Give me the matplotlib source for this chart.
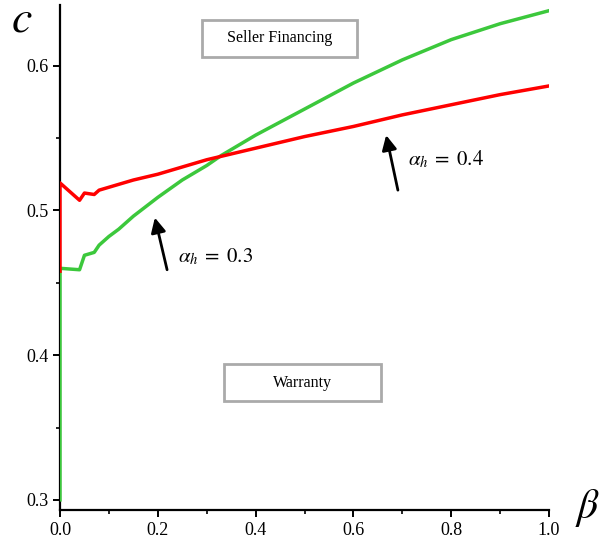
import numpy as np
import matplotlib
matplotlib.use('Agg')
import matplotlib.pyplot as plt
from matplotlib.ticker import MultipleLocator
from matplotlib.patches import Rectangle

plt.rcParams['font.family'] = ['Liberation Serif', 'DejaVu Serif']
plt.rcParams['mathtext.fontset'] = 'stix'

# alpha_h = 0.4 (red)
beta_red = [0.0, 0.0, 0.04, 0.05, 0.07, 0.08, 0.10, 0.12, 0.15, 0.20, 0.25, 0.30,
            0.35, 0.40, 0.50, 0.60, 0.70, 0.80, 0.90, 1.00]
c_red = [0.458, 0.519, 0.507, 0.512, 0.511, 0.514, 0.516, 0.518, 0.521, 0.525, 0.530, 0.535,
         0.539, 0.543, 0.551, 0.558, 0.566, 0.573, 0.580, 0.586]

# alpha_h = 0.3 (green)
beta_green = [0.0, 0.0, 0.04, 0.05, 0.07, 0.08, 0.10, 0.12, 0.15, 0.20, 0.25, 0.30,
              0.33, 0.40, 0.50, 0.60, 0.70, 0.80, 0.90, 1.00]
c_green = [0.300, 0.460, 0.459, 0.469, 0.471, 0.476, 0.482, 0.487, 0.496, 0.509, 0.521, 0.531,
           0.538, 0.552, 0.570, 0.588, 0.604, 0.618, 0.629, 0.638]

fig = plt.figure(figsize=(6, 5.44), dpi=100)
ax = fig.add_axes([0.1, 0.0625, 0.815, 0.9285])

ax.plot(beta_green, c_green, color='#3cc83c', lw=2.5, zorder=3)
ax.plot(beta_red, c_red, color='#ff0000', lw=2.5, zorder=4)

ax.set_xlim(0, 1.0)
ax.set_ylim(0.293, 0.642)
ax.xaxis.set_minor_locator(MultipleLocator(0.1))
ax.yaxis.set_minor_locator(MultipleLocator(0.05))
ax.set_xticks([0.0, 0.2, 0.4, 0.6, 0.8, 1.0])
ax.set_xticklabels(['0.0', '0.2', '0.4', '0.6', '0.8', '1.0'])
ax.set_yticks([0.3, 0.4, 0.5, 0.6])
ax.set_yticklabels(['0.3', '0.4', '0.5', '0.6'])

for s in ['top', 'right']:
    ax.spines[s].set_visible(False)
for s in ['left', 'bottom']:
    ax.spines[s].set_linewidth(1.6)
    ax.spines[s].set_color('black')
ax.tick_params(which='major', direction='out', length=5, width=1.4, labelsize=13)
ax.tick_params(which='minor', direction='out', length=3, width=1.2)

fig.text(0.036, 0.962, '$c$', fontsize=33, ha='center', va='center')
fig.text(0.979, 0.066, r'$\beta$', fontsize=30, ha='center', va='center')

# region boxes
ax.add_patch(Rectangle((0.290, 0.6062), 0.317, 0.0253, fc='white', ec='#aaaaaa', lw=2, zorder=5))
ax.text(0.449, 0.619, 'Seller Financing', fontsize=11.5, ha='center', va='center', zorder=6)
ax.add_patch(Rectangle((0.335, 0.3685), 0.321, 0.0253, fc='white', ec='#aaaaaa', lw=2, zorder=5))
ax.text(0.495, 0.381, 'Warranty', fontsize=11.5, ha='center', va='center', zorder=6)

arrow = dict(arrowstyle='-|>', lw=2, color='black', mutation_scale=22, shrinkA=0, shrinkB=0)
ax.annotate('', xy=(0.194, 0.495), xytext=(0.219, 0.459), arrowprops=arrow)
ax.annotate('', xy=(0.667, 0.552), xytext=(0.691, 0.514), arrowprops=arrow)
ax.text(0.242, 0.468, r'$\alpha_h\;=\;0.3$', fontsize=15, ha='left', va='center')
ax.text(0.712, 0.535, r'$\alpha_h\;=\;0.4$', fontsize=15, ha='left', va='center')

fig.savefig('out.png', dpi=100)
